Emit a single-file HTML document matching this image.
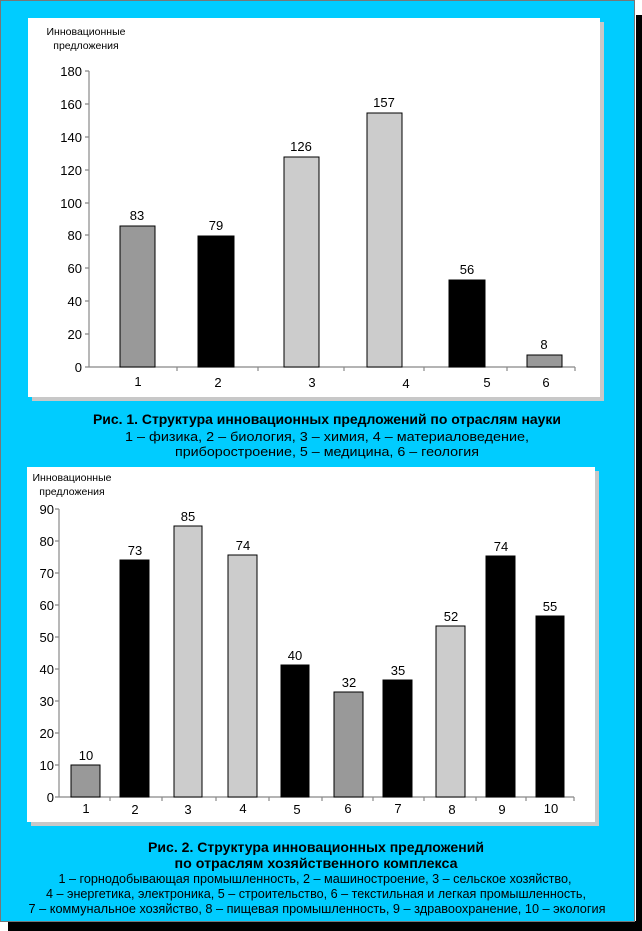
<!DOCTYPE html>
<html><head><meta charset="utf-8"><style>
html,body{margin:0;padding:0;background:#fff}
svg{display:block}
text{font-family:"Liberation Sans",sans-serif}
</style></head><body>
<svg width="642" height="931" xmlns="http://www.w3.org/2000/svg">
<rect x="0" y="0" width="642" height="931" fill="#fff"/>
<rect x="636" y="15" width="6" height="916" fill="#000"/>
<rect x="8" y="921" width="634" height="10" fill="#000"/>
<rect x="0.5" y="0.5" width="634" height="921" fill="#00ccff" stroke="#777" stroke-width="1"/>
<!-- panel 1 -->
<rect x="32" y="22" width="572" height="379" fill="#c8c8c8"/>
<rect x="28" y="18" width="572" height="379" fill="#fff"/>
<g font-size="10.5" fill="#000" text-anchor="middle">
<text x="86" y="35">Инновационные</text><text x="86" y="49">предложения</text>
</g>
<g stroke="#888" stroke-width="1.2" fill="none">
<line x1="89" y1="71" x2="89" y2="367"/><line x1="89" y1="367" x2="575" y2="367"/>
<path d="M85 71H89M85 104H89M85 137H89M85 170H89M85 203H89M85 235H89M85 268H89M85 301H89M85 334H89M85 367H89"/>
<path d="M177 367V371M258 367V371M344 367V371M424 367V371M507 367V371M575 367V371"/>
</g>
<g font-size="13" text-anchor="end">
<text x="82" y="76">180</text><text x="82" y="109">160</text><text x="82" y="142">140</text><text x="82" y="175">120</text><text x="82" y="208">100</text><text x="82" y="240">80</text><text x="82" y="273">60</text><text x="82" y="306">40</text><text x="82" y="339">20</text><text x="82" y="372">0</text>
</g>
<g stroke="#000" stroke-width="1">
<rect x="120" y="226" width="35" height="141" fill="#999"/>
<rect x="198" y="236" width="36" height="131" fill="#000"/>
<rect x="284" y="157" width="35" height="210" fill="#ccc"/>
<rect x="367" y="113" width="35" height="254" fill="#ccc"/>
<rect x="449" y="280" width="36" height="87" fill="#000"/>
<rect x="527" y="355" width="35" height="12" fill="#999"/>
</g>
<g font-size="13" text-anchor="middle">
<text x="137" y="220">83</text><text x="216" y="230">79</text><text x="301" y="151">126</text><text x="384" y="107">157</text><text x="467" y="274">56</text><text x="544" y="349">8</text>
<text x="138" y="386">1</text><text x="218" y="387">2</text><text x="312" y="387">3</text><text x="406" y="388">4</text><text x="487" y="387">5</text><text x="546" y="387">6</text>
</g>
<g text-anchor="middle" fill="#000" lengthAdjust="spacingAndGlyphs">
<text x="327" y="424" font-size="13.5" font-weight="bold" textLength="468" lengthAdjust="spacingAndGlyphs">Рис. 1. Структура инновационных предложений по отраслям науки</text>
<text x="327" y="441" font-size="13" textLength="404" lengthAdjust="spacingAndGlyphs">1 – физика, 2 – биология, 3 – химия, 4 – материаловедение,</text>
<text x="327" y="456" font-size="13" textLength="304" lengthAdjust="spacingAndGlyphs">приборостроение, 5 – медицина, 6 – геология</text>
</g>
<!-- panel 2 -->
<rect x="31" y="471" width="568" height="355" fill="#c8c8c8"/>
<rect x="27" y="467" width="568" height="355" fill="#fff"/>
<g font-size="10.5" text-anchor="middle">
<text x="72" y="481">Инновационные</text><text x="72" y="495">предложения</text>
</g>
<g stroke="#888" stroke-width="1.2" fill="none">
<line x1="59" y1="509" x2="59" y2="797"/><line x1="59" y1="797" x2="574" y2="797"/>
<path d="M55 509H59M55 541H59M55 573H59M55 605H59M55 637H59M55 669H59M55 701H59M55 733H59M55 765H59M55 797H59"/>
<path d="M110 797V801M162 797V801M216 797V801M269 797V801M322 797V801M373 797V801M424 797V801M476 797V801M526 797V801M574 797V801"/>
</g>
<g font-size="13" text-anchor="end">
<text x="54" y="514">90</text><text x="54" y="546">80</text><text x="54" y="578">70</text><text x="54" y="610">60</text><text x="54" y="642">50</text><text x="54" y="674">40</text><text x="54" y="706">30</text><text x="54" y="738">20</text><text x="54" y="770">10</text><text x="54" y="802">0</text>
</g>
<g stroke="#000" stroke-width="1">
<rect x="71" y="765" width="29" height="32" fill="#999"/>
<rect x="120" y="560" width="29" height="237" fill="#000"/>
<rect x="174" y="526" width="28" height="271" fill="#ccc"/>
<rect x="228" y="555" width="29" height="242" fill="#ccc"/>
<rect x="281" y="665" width="28" height="132" fill="#000"/>
<rect x="334" y="692" width="29" height="105" fill="#999"/>
<rect x="383" y="680" width="29" height="117" fill="#000"/>
<rect x="436" y="626" width="29" height="171" fill="#ccc"/>
<rect x="486" y="556" width="29" height="241" fill="#000"/>
<rect x="536" y="616" width="28" height="181" fill="#000"/>
</g>
<g font-size="13" text-anchor="middle">
<text x="86" y="760">10</text><text x="135" y="555">73</text><text x="188" y="521">85</text><text x="243" y="550">74</text><text x="295" y="660">40</text><text x="349" y="687">32</text><text x="398" y="675">35</text><text x="451" y="621">52</text><text x="501" y="551">74</text><text x="550" y="611">55</text>
<text x="86" y="813">1</text><text x="135" y="814">2</text><text x="188" y="814">3</text><text x="243" y="813">4</text><text x="297" y="814">5</text><text x="348" y="813">6</text><text x="398" y="813">7</text><text x="452" y="814">8</text><text x="502" y="814">9</text><text x="551" y="813">10</text>
</g>
<g text-anchor="middle" fill="#000">
<text x="316" y="852" font-size="13.5" font-weight="bold" textLength="336" lengthAdjust="spacingAndGlyphs">Рис. 2. Структура инновационных предложений</text>
<text x="316" y="868" font-size="13.5" font-weight="bold" textLength="283" lengthAdjust="spacingAndGlyphs">по отраслям хозяйственного комплекса</text>
<text x="315" y="883" font-size="12.5" textLength="513" lengthAdjust="spacingAndGlyphs">1 – горнодобывающая промышленность, 2 – машиностроение, 3 – сельское хозяйство,</text>
<text x="316" y="898" font-size="12.5" textLength="540" lengthAdjust="spacingAndGlyphs">4 – энергетика, электроника, 5 – строительство, 6 – текстильная и легкая промышленность,</text>
<text x="317" y="913" font-size="12.5" textLength="577" lengthAdjust="spacingAndGlyphs">7 – коммунальное хозяйство, 8 – пищевая промышленность, 9 – здравоохранение, 10 – экология</text>
</g>
</svg>
</body></html>
